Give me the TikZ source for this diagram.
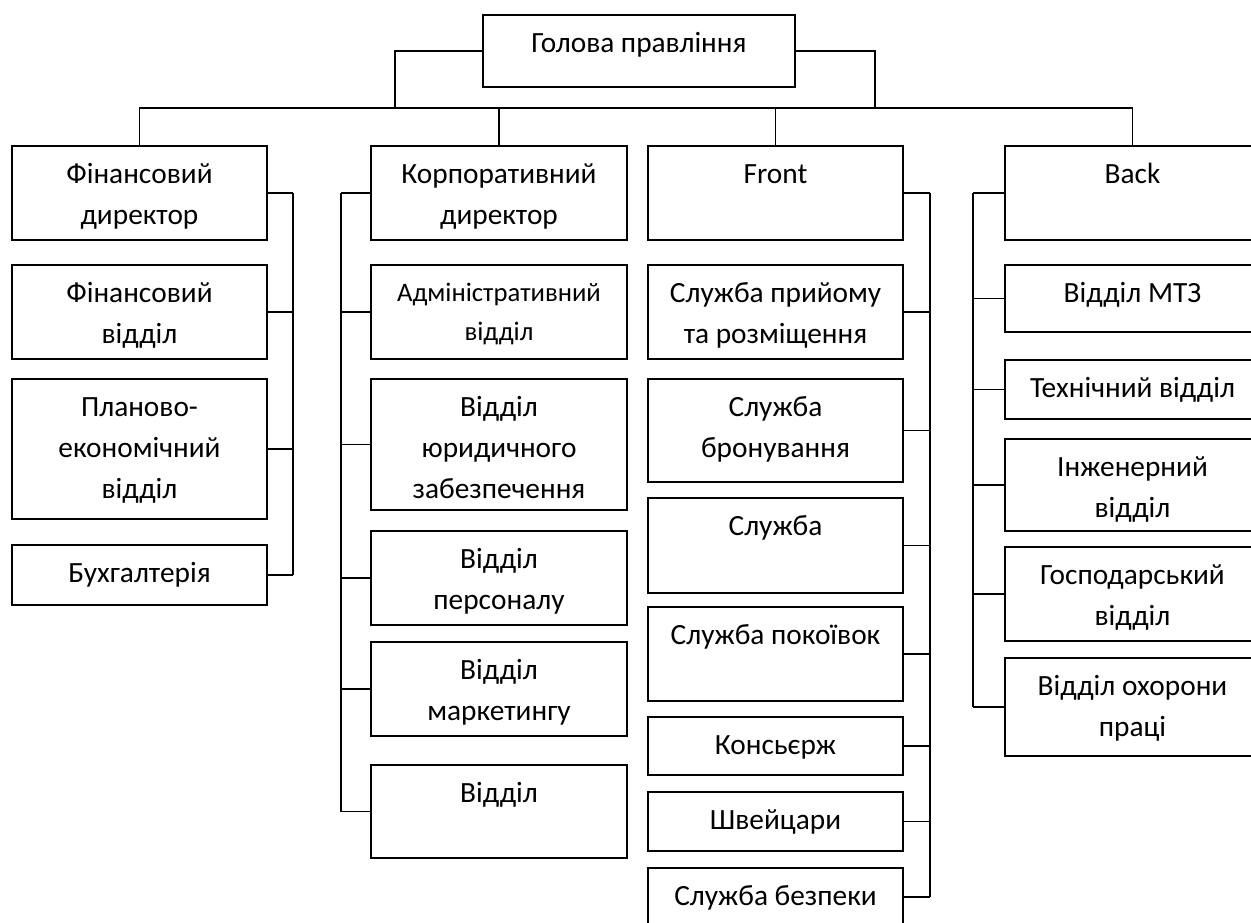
\documentclass[tikz,border=0pt]{standalone}
\usepackage{fontspec}
\setmainfont{Carlito}
\usetikzlibrary{calc,fit}
\tikzset{
  box/.style={draw, line width=1.2pt, inner sep=0pt},
  link/.style={line width=1.2pt},
  txt/.style={anchor=north, inner sep=0pt, align=center, font=\fontsize{22}{30.75}\selectfont},
  small/.style={font=\fontsize{20}{29.25}\selectfont}
}

\begin{document}
\begin{tikzpicture}[x=0.75pt,y=0.75pt,yscale=-1,xscale=1]
\useasboundingbox (0,0) rectangle (1251,922);

%Shape: Rectangle [head]
\node[box, fit={(483,15) (795,87)}] (head) {};
% Text Node
\node[txt] (headt) at ($(head.north)+(0,9)$) {\strut Голова правління};

%%% column 1
\node[box, fit={(12,146) (267,240)}] (fd) {};
\node[box, fit={(12,265) (267,359)}] (fv) {};
\node[box, fit={(12,379) (267,519)}] (pe) {};
\node[box, fit={(12,545) (267,605)}] (bh) {};
% Text Node
\node[txt] (fdt) at ($(fd.north)+(0,9)$) {\strut Фінансовий\\директор};
\node[txt] (fvt) at ($(fv.north)+(0,9)$) {\strut Фінансовий\\відділ};
\node[txt] (pet) at ($(pe.north)+(0,9)$) {\strut Планово-\\економічний\\відділ};
\node[txt] (bht) at ($(bh.north)+(0,9)$) {\strut Бухгалтерія};

%%% column 2
\node[box, fit={(371,146) (627,240)}] (kd) {};
\node[box, fit={(371,265) (627,359)}] (ad) {};
\node[box, fit={(371,379) (627,510)}] (yu) {};
\node[box, fit={(371,531) (627,625)}] (ps) {};
\node[box, fit={(371,642) (627,736)}] (mk) {};
\node[box, fit={(371,765) (627,858)}] (vd) {};
% Text Node
\node[txt] (kdt) at ($(kd.north)+(0,9)$) {\strut Корпоративний\\директор};
\node[txt, small] (adt) at ($(ad.north)+(0,10)$) {\strut Адміністративний\\відділ};
\node[txt] (yut) at ($(yu.north)+(0,9)$) {\strut Відділ\\юридичного\\забезпечення};
\node[txt] (pst) at ($(ps.north)+(0,9)$) {\strut Відділ\\персоналу};
\node[txt] (mkt) at ($(mk.north)+(0,9)$) {\strut Відділ\\маркетингу};
\node[txt] (vdt) at ($(vd.north)+(0,9)$) {\strut Відділ};

%%% column 3
\node[box, fit={(648,146) (903,240)}] (fr) {};
\node[box, fit={(648,265) (903,359)}] (pr) {};
\node[box, fit={(648,379) (903,482)}] (br) {};
\node[box, fit={(648,498) (903,593)}] (sl) {};
\node[box, fit={(648,607) (903,701)}] (pk) {};
\node[box, fit={(648,717) (903,775)}] (ks) {};
\node[box, fit={(648,792) (903,851)}] (sv) {};
\node[box, fit={(648,868) (903,926)}] (bz) {};
% Text Node
\node[txt] (frt) at ($(fr.north)+(0,9)$) {\strut Front};
\node[txt] (prt) at ($(pr.north)+(0,9)$) {\strut Служба прийому\\та розміщення};
\node[txt] (brt) at ($(br.north)+(0,9)$) {\strut Служба\\бронування};
\node[txt] (slt) at ($(sl.north)+(0,9)$) {\strut Служба};
\node[txt] (pkt) at ($(pk.north)+(0,9)$) {\strut Служба покоївок};
\node[txt] (kst) at ($(ks.north)+(0,9)$) {\strut Консьєрж};
\node[txt] (svt) at ($(sv.north)+(0,9)$) {\strut Швейцари};
\node[txt] (bzt) at ($(bz.north)+(0,9)$) {\strut Служба безпеки};

%%% column 4
\node[box, fit={(1005,146) (1260,240)}] (bk) {};
\node[box, fit={(1005,265) (1260,332)}] (mt) {};
\node[box, fit={(1005,360) (1260,419)}] (th) {};
\node[box, fit={(1005,439) (1260,531)}] (in) {};
\node[box, fit={(1005,547) (1260,641)}] (gs) {};
\node[box, fit={(1005,658) (1260,756)}] (oh) {};
% Text Node
\node[txt] (bkt) at ($(bk.north)+(0,9)$) {\strut Back};
\node[txt] (mtt) at ($(mt.north)+(0,9)$) {\strut Відділ МТЗ};
\node[txt] (tht) at ($(th.north)+(0,9)$) {\strut Технічний відділ};
\node[txt] (int) at ($(in.north)+(0,9)$) {\strut Інженерний\\відділ};
\node[txt] (gst) at ($(gs.north)+(0,9)$) {\strut Господарський\\відділ};
\node[txt] (oht) at ($(oh.north)+(0,9)$) {\strut Відділ охорони\\праці};

%Straight Lines: head to bus
\coordinate (jl) at (395,108);
\coordinate (jr) at (875,108);
\draw[link] (head.west) -| (jl);
\draw[link] (head.east) -| (jr);
\draw[link] (fd.north) -- (fd.north |- jl) -- (bk.north |- jl) -- (bk.north);
\draw[link] (kd.north) -- (kd.north |- jl);
\draw[link] (fr.north) -- (fr.north |- jl);

%Straight Lines: side rails
\coordinate (fl) at (293,0);
\coordinate (kl) at (341,0);
\coordinate (frl) at (930,0);
\coordinate (bl) at (973,0);
\foreach \n in {fd,fv,pe,bh} \draw[link] (\n.east) -- (\n.east -| fl);
\draw[link] (fd.east -| fl) -- (bh.east -| fl);
\foreach \n in {kd,ad,yu,ps,mk,vd} \draw[link] (\n.west) -- (\n.west -| kl);
\draw[link] (kd.west -| kl) -- (vd.west -| kl);
\foreach \n in {fr,pr,br,sl,pk,ks,sv,bz} \draw[link] (\n.east) -- (\n.east -| frl);
\draw[link] (fr.east -| frl) -- (bz.east -| frl);
\foreach \n in {bk,mt,th,in,gs,oh} \draw[link] (\n.west) -- (\n.west -| bl);
\draw[link] (bk.west -| bl) -- (oh.west -| bl);

\end{tikzpicture}
\end{document}
